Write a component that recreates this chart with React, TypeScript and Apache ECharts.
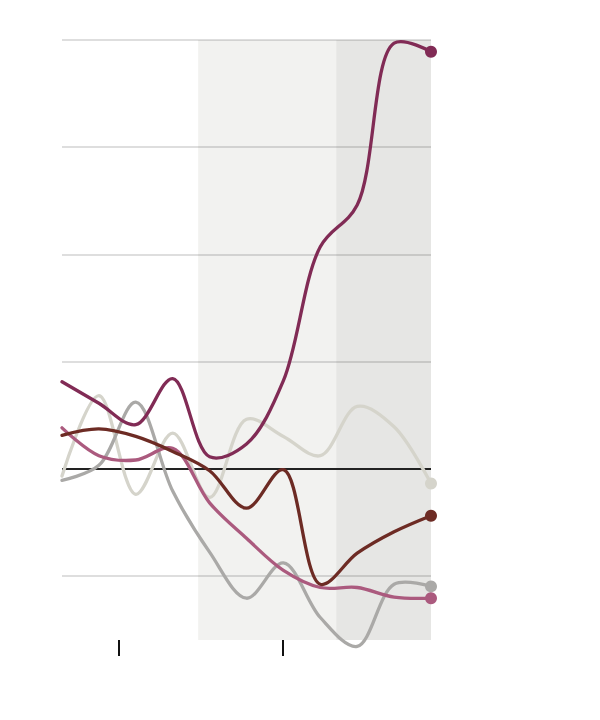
import React, { useEffect, useRef } from "react";
import * as echarts from "echarts";

const xPositions = [0, 1, 2, 3, 4, 5, 6, 7, 8, 9, 10];
const plumValues = [0.81, 0.61, 0.41, 0.84, 0.11, 0.23, 0.82, 2.07, 2.46, 3.97, 3.89];
const stoneValues = [-0.07, 0.68, -0.24, 0.33, -0.27, 0.46, 0.3, 0.12, 0.58, 0.39, -0.14];
const brownValues = [0.31, 0.37, 0.3, 0.16, -0.02, -0.37, -0.01, -1.08, -0.79, -0.59, -0.44];
const greyValues = [-0.11, 0.03, 0.62, -0.21, -0.78, -1.21, -0.88, -1.39, -1.66, -1.08, -1.1];
const pinkValues = [0.38, 0.12, 0.08, 0.19, -0.32, -0.65, -0.95, -1.11, -1.11, -1.2, -1.21];
const gridValues = [-1, 1, 2, 3, 4];
const zeroValue = 0;
const tickValues = [1.55, 5.98];
const lightBand = [3.69, 7.43];
const darkBand = [7.43, 10];

const seriesDefs = [
  { name: "stone", values: stoneValues, color: "#d5d4cb" },
  { name: "grey", values: greyValues, color: "#aaa9a7" },
  { name: "pink", values: pinkValues, color: "#ab5a7e" },
  { name: "brown", values: brownValues, color: "#6d2b24" },
  { name: "plum", values: plumValues, color: "#812b55" },
];

// centripetal Catmull-Rom (alpha 0.5) rendering of pixel points
function catmullRomPath(pts: number[][]): string {
  const n = pts.length;
  let d = `M${pts[0][0]},${pts[0][1]}`;
  const dist = (a: number[], b: number[]) => Math.hypot(b[0] - a[0], b[1] - a[1]);
  for (let i = 0; i < n - 1; i++) {
    const p1 = pts[i];
    const p2 = pts[i + 1];
    const p0 = i > 0 ? pts[i - 1] : null;
    const p3 = i + 2 < n ? pts[i + 2] : null;
    const d12 = dist(p1, p2);
    const l12a = Math.sqrt(d12);
    const l12_2a = d12;
    let c1 = [p1[0], p1[1]];
    let c2 = [p2[0], p2[1]];
    if (p0) {
      const d01 = dist(p0, p1);
      const l01a = Math.sqrt(d01);
      const l01_2a = d01;
      if (l01a > 1e-6) {
        const a = 2 * l01_2a + 3 * l01a * l12a + l12_2a;
        const nn = 3 * l01a * (l01a + l12a);
        c1 = [
          (p1[0] * a - p0[0] * l12_2a + p2[0] * l01_2a) / nn,
          (p1[1] * a - p0[1] * l12_2a + p2[1] * l01_2a) / nn,
        ];
      }
    }
    if (p3) {
      const d23 = dist(p2, p3);
      const l23a = Math.sqrt(d23);
      const l23_2a = d23;
      if (l23a > 1e-6) {
        const b = 2 * l23_2a + 3 * l23a * l12a + l12_2a;
        const m = 3 * l23a * (l23a + l12a);
        c2 = [
          (p2[0] * b + p1[0] * l23_2a - p3[0] * l12_2a) / m,
          (p2[1] * b + p1[1] * l23_2a - p3[1] * l12_2a) / m,
        ];
      }
    }
    d += ` C${c1[0]},${c1[1]} ${c2[0]},${c2[1]} ${p2[0]},${p2[1]}`;
  }
  return d;
}

export default function App() {
  const ref = useRef<HTMLDivElement>(null);
  useEffect(() => {
    if (!ref.current) return;
    const chart = echarts.init(ref.current, null, { renderer: "svg" });
    const lines = seriesDefs.map((s, si) => ({
      name: s.name,
      type: "custom",
      clip: false,
      z: 5 + si,
      encode: { x: 0, y: 1 },
      data: s.values.map((v, i) => [xPositions[i], v]),
      renderItem: (params: any, api: any) => {
        const idx = params.dataIndex;
        const last = s.values.length - 1;
        if (idx === 0) {
          const pts = s.values.map((v, i) => api.coord([xPositions[i], v]));
          return {
            type: "path",
            shape: { pathData: catmullRomPath(pts) },
            style: {
              fill: "none",
              stroke: s.color,
              lineWidth: 3.3,
              lineJoin: "round",
              lineCap: "round",
            },
          };
        }
        if (idx === last) {
          const p = api.coord([xPositions[idx], s.values[idx]]);
          return {
            type: "circle",
            shape: { cx: p[0], cy: p[1], r: 6 },
            style: { fill: s.color },
          };
        }
        return null;
      },
    }));
    const background = {
      name: "bg",
      type: "line",
      data: [],
      z: 1,
      markArea: {
        silent: true,
        data: [
          [{ xAxis: lightBand[0], itemStyle: { color: "#f2f2f0" } }, { xAxis: lightBand[1] }],
          [{ xAxis: darkBand[0], itemStyle: { color: "#e6e6e4" } }, { xAxis: darkBand[1] }],
        ],
      },
      markLine: {
        silent: true,
        symbol: "none",
        label: { show: false },
        data: [
          ...gridValues.map((v) => ({
            yAxis: v,
            lineStyle: { color: "rgba(0,0,0,0.13)", width: 2, type: "solid" },
          })),
          { yAxis: zeroValue, lineStyle: { color: "#222222", width: 2, type: "solid" } },
        ],
      },
    };
    chart.setOption({
      animation: false,
      backgroundColor: "#ffffff",
      grid: { left: 62, right: 169, top: 40, bottom: 80 },
      xAxis: {
        type: "value",
        min: 0,
        max: 10,
        axisLine: { show: false, onZero: false },
        splitLine: { show: false },
        axisLabel: { show: false },
        axisTick: {
          show: true,
          length: 16,
          customValues: tickValues,
          lineStyle: { color: "#111111", width: 2 },
        },
      },
      yAxis: {
        type: "value",
        min: -1.6,
        max: 4,
        axisLine: { show: false },
        axisTick: { show: false },
        axisLabel: { show: false },
        splitLine: { show: false },
      },
      series: [background, ...lines],
    });
    return () => chart.dispose();
  }, []);
  return (
    <div
      ref={ref}
      style={{ position: "fixed", left: 0, top: 0, width: 600, height: 720 }}
    />
  );
}
